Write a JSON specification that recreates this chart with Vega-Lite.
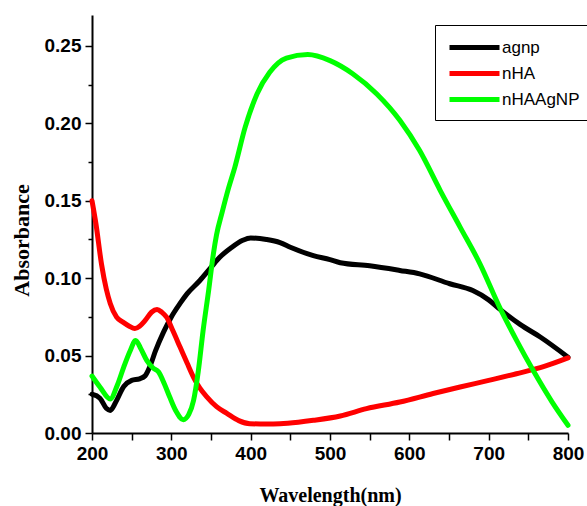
{
  "$schema": "https://vega.github.io/schema/vega-lite/v6.json",
  "width": 476,
  "height": 418,
  "autosize": {"type": "none"},
  "padding": {"left": 92, "top": 15, "right": 19, "bottom": 73},
  "background": "white",
  "data": {"values": [
    {"sample": "agnp", "wavelength": 200, "absorbance": 0.025},
    {"sample": "agnp", "wavelength": 210, "absorbance": 0.0225},
    {"sample": "agnp", "wavelength": 218, "absorbance": 0.016},
    {"sample": "agnp", "wavelength": 223, "absorbance": 0.0146},
    {"sample": "agnp", "wavelength": 230, "absorbance": 0.02},
    {"sample": "agnp", "wavelength": 240, "absorbance": 0.03},
    {"sample": "agnp", "wavelength": 250, "absorbance": 0.034},
    {"sample": "agnp", "wavelength": 260, "absorbance": 0.035},
    {"sample": "agnp", "wavelength": 267, "absorbance": 0.037},
    {"sample": "agnp", "wavelength": 273, "absorbance": 0.043},
    {"sample": "agnp", "wavelength": 280, "absorbance": 0.053},
    {"sample": "agnp", "wavelength": 290, "absorbance": 0.065},
    {"sample": "agnp", "wavelength": 300, "absorbance": 0.075},
    {"sample": "agnp", "wavelength": 311, "absorbance": 0.0837},
    {"sample": "agnp", "wavelength": 320, "absorbance": 0.09},
    {"sample": "agnp", "wavelength": 336, "absorbance": 0.0985},
    {"sample": "agnp", "wavelength": 350, "absorbance": 0.107},
    {"sample": "agnp", "wavelength": 361, "absorbance": 0.1135},
    {"sample": "agnp", "wavelength": 375, "absorbance": 0.1195},
    {"sample": "agnp", "wavelength": 390, "absorbance": 0.1245},
    {"sample": "agnp", "wavelength": 400, "absorbance": 0.126},
    {"sample": "agnp", "wavelength": 420, "absorbance": 0.125},
    {"sample": "agnp", "wavelength": 437, "absorbance": 0.123},
    {"sample": "agnp", "wavelength": 450, "absorbance": 0.12},
    {"sample": "agnp", "wavelength": 479, "absorbance": 0.1146},
    {"sample": "agnp", "wavelength": 500, "absorbance": 0.112},
    {"sample": "agnp", "wavelength": 513, "absorbance": 0.11},
    {"sample": "agnp", "wavelength": 550, "absorbance": 0.108},
    {"sample": "agnp", "wavelength": 588, "absorbance": 0.105},
    {"sample": "agnp", "wavelength": 613, "absorbance": 0.1028},
    {"sample": "agnp", "wavelength": 651, "absorbance": 0.0964},
    {"sample": "agnp", "wavelength": 680, "absorbance": 0.092},
    {"sample": "agnp", "wavelength": 700, "absorbance": 0.086},
    {"sample": "agnp", "wavelength": 714, "absorbance": 0.08},
    {"sample": "agnp", "wavelength": 740, "absorbance": 0.07},
    {"sample": "agnp", "wavelength": 765, "absorbance": 0.062},
    {"sample": "agnp", "wavelength": 800, "absorbance": 0.049},

    {"sample": "nHA", "wavelength": 200, "absorbance": 0.15},
    {"sample": "nHA", "wavelength": 205, "absorbance": 0.135},
    {"sample": "nHA", "wavelength": 212, "absorbance": 0.109},
    {"sample": "nHA", "wavelength": 218, "absorbance": 0.093},
    {"sample": "nHA", "wavelength": 223, "absorbance": 0.0837},
    {"sample": "nHA", "wavelength": 231, "absorbance": 0.0748},
    {"sample": "nHA", "wavelength": 239, "absorbance": 0.0716},
    {"sample": "nHA", "wavelength": 247, "absorbance": 0.069},
    {"sample": "nHA", "wavelength": 254, "absorbance": 0.0675},
    {"sample": "nHA", "wavelength": 260, "absorbance": 0.069},
    {"sample": "nHA", "wavelength": 267, "absorbance": 0.0727},
    {"sample": "nHA", "wavelength": 275, "absorbance": 0.078},
    {"sample": "nHA", "wavelength": 282, "absorbance": 0.0798},
    {"sample": "nHA", "wavelength": 288, "absorbance": 0.078},
    {"sample": "nHA", "wavelength": 294, "absorbance": 0.0748},
    {"sample": "nHA", "wavelength": 302, "absorbance": 0.066},
    {"sample": "nHA", "wavelength": 311, "absorbance": 0.0555},
    {"sample": "nHA", "wavelength": 320, "absorbance": 0.045},
    {"sample": "nHA", "wavelength": 328, "absorbance": 0.036},
    {"sample": "nHA", "wavelength": 336, "absorbance": 0.029},
    {"sample": "nHA", "wavelength": 345, "absorbance": 0.0232},
    {"sample": "nHA", "wavelength": 357, "absorbance": 0.017},
    {"sample": "nHA", "wavelength": 370, "absorbance": 0.0127},
    {"sample": "nHA", "wavelength": 385, "absorbance": 0.008},
    {"sample": "nHA", "wavelength": 399, "absorbance": 0.006},
    {"sample": "nHA", "wavelength": 420, "absorbance": 0.0058},
    {"sample": "nHA", "wavelength": 437, "absorbance": 0.006},
    {"sample": "nHA", "wavelength": 460, "absorbance": 0.007},
    {"sample": "nHA", "wavelength": 479, "absorbance": 0.0082},
    {"sample": "nHA", "wavelength": 513, "absorbance": 0.011},
    {"sample": "nHA", "wavelength": 546, "absorbance": 0.0157},
    {"sample": "nHA", "wavelength": 588, "absorbance": 0.02},
    {"sample": "nHA", "wavelength": 630, "absorbance": 0.0255},
    {"sample": "nHA", "wavelength": 664, "absorbance": 0.0297},
    {"sample": "nHA", "wavelength": 700, "absorbance": 0.034},
    {"sample": "nHA", "wavelength": 735, "absorbance": 0.0383},
    {"sample": "nHA", "wavelength": 770, "absorbance": 0.043},
    {"sample": "nHA", "wavelength": 800, "absorbance": 0.0485},

    {"sample": "nHAAgNP", "wavelength": 200, "absorbance": 0.0368},
    {"sample": "nHAAgNP", "wavelength": 210, "absorbance": 0.0297},
    {"sample": "nHAAgNP", "wavelength": 223, "absorbance": 0.022},
    {"sample": "nHAAgNP", "wavelength": 232, "absorbance": 0.031},
    {"sample": "nHAAgNP", "wavelength": 240, "absorbance": 0.0426},
    {"sample": "nHAAgNP", "wavelength": 248, "absorbance": 0.053},
    {"sample": "nHAAgNP", "wavelength": 255, "absorbance": 0.0598},
    {"sample": "nHAAgNP", "wavelength": 262, "absorbance": 0.054},
    {"sample": "nHAAgNP", "wavelength": 269, "absorbance": 0.0469},
    {"sample": "nHAAgNP", "wavelength": 277, "absorbance": 0.042},
    {"sample": "nHAAgNP", "wavelength": 284, "absorbance": 0.0394},
    {"sample": "nHAAgNP", "wavelength": 291, "absorbance": 0.032},
    {"sample": "nHAAgNP", "wavelength": 298, "absorbance": 0.0232},
    {"sample": "nHAAgNP", "wavelength": 306, "absorbance": 0.014},
    {"sample": "nHAAgNP", "wavelength": 315, "absorbance": 0.0086},
    {"sample": "nHAAgNP", "wavelength": 322, "absorbance": 0.012},
    {"sample": "nHAAgNP", "wavelength": 328, "absorbance": 0.021},
    {"sample": "nHAAgNP", "wavelength": 334, "absorbance": 0.04},
    {"sample": "nHAAgNP", "wavelength": 340, "absorbance": 0.066},
    {"sample": "nHAAgNP", "wavelength": 347, "absorbance": 0.092},
    {"sample": "nHAAgNP", "wavelength": 353, "absorbance": 0.1157},
    {"sample": "nHAAgNP", "wavelength": 357, "absorbance": 0.128},
    {"sample": "nHAAgNP", "wavelength": 364, "absorbance": 0.1425},
    {"sample": "nHAAgNP", "wavelength": 372, "absorbance": 0.158},
    {"sample": "nHAAgNP", "wavelength": 380, "absorbance": 0.1716},
    {"sample": "nHAAgNP", "wavelength": 393, "absorbance": 0.1974},
    {"sample": "nHAAgNP", "wavelength": 408, "absorbance": 0.219},
    {"sample": "nHAAgNP", "wavelength": 424, "absorbance": 0.233},
    {"sample": "nHAAgNP", "wavelength": 445, "absorbance": 0.2422},
    {"sample": "nHAAgNP", "wavelength": 472, "absorbance": 0.2445},
    {"sample": "nHAAgNP", "wavelength": 500, "absorbance": 0.2405},
    {"sample": "nHAAgNP", "wavelength": 529, "absorbance": 0.2319},
    {"sample": "nHAAgNP", "wavelength": 559, "absorbance": 0.219},
    {"sample": "nHAAgNP", "wavelength": 588, "absorbance": 0.202},
    {"sample": "nHAAgNP", "wavelength": 613, "absorbance": 0.1824},
    {"sample": "nHAAgNP", "wavelength": 639, "absorbance": 0.1566},
    {"sample": "nHAAgNP", "wavelength": 664, "absorbance": 0.133},
    {"sample": "nHAAgNP", "wavelength": 689, "absorbance": 0.1093},
    {"sample": "nHAAgNP", "wavelength": 714, "absorbance": 0.081},
    {"sample": "nHAAgNP", "wavelength": 735, "absorbance": 0.06},
    {"sample": "nHAAgNP", "wavelength": 756, "absorbance": 0.0405},
    {"sample": "nHAAgNP", "wavelength": 780, "absorbance": 0.02},
    {"sample": "nHAAgNP", "wavelength": 800, "absorbance": 0.005}
  ]},
  "mark": {"type": "line", "strokeWidth": 5, "interpolate": "monotone", "strokeCap": "round", "strokeJoin": "round"},
  "encoding": {
    "x": {
      "field": "wavelength", "type": "quantitative",
      "scale": {"domain": [200, 800], "nice": false, "zero": false},
      "axis": {
        "values": [200, 250, 300, 350, 400, 450, 500, 550, 600, 650, 700, 750, 800],
        "format": "d",
        "labelExpr": "datum.value % 100 == 0 ? datum.label : ''",
        "labelOverlap": false,
        "labelFlush": false,
        "tickSize": 7,
        "labelPadding": 4,
        "title": "Wavelength(nm)",
        "titleFont": "Liberation Serif",
        "titleFontWeight": "bold",
        "titleFontSize": 20,
        "titleBaseline": "alphabetic",
        "titleY": 68
      }
    },
    "y": {
      "field": "absorbance", "type": "quantitative",
      "scale": {"domain": [0, 0.27], "nice": false},
      "axis": {
        "values": [0, 0.025, 0.05, 0.075, 0.1, 0.125, 0.15, 0.175, 0.2, 0.225, 0.25],
        "format": ".2f",
        "labelExpr": "abs(datum.value*20 - round(datum.value*20)) > 0.001 ? '' : datum.label",
        "labelOverlap": false,
        "labelFlush": false,
        "tickSize": {"condition": {"test": "abs(datum.value*20 - round(datum.value*20)) > 0.001", "value": 4}, "value": 7},
        "labelPadding": 4,
        "title": "Absorbance",
        "titleFont": "Liberation Serif",
        "titleFontWeight": "bold",
        "titleFontSize": 22,
        "titleAngle": 270,
        "titleAlign": "center",
        "titleBaseline": "middle",
        "titleX": -71,
        "titleY": 225
      }
    },
    "color": {
      "field": "sample", "type": "nominal",
      "scale": {"domain": ["agnp", "nHA", "nHAAgNP"], "range": ["#000000", "#ff0000", "#00ff00"]},
      "legend": {
        "title": null,
        "orient": "none",
        "legendX": 343,
        "legendY": 10,
        "strokeColor": "black",
        "fillColor": "white",
        "padding": 10,
        "symbolType": "M-2.5,0H2.5",
        "symbolSize": 400,
        "symbolStrokeWidth": 5,
        "symbolOffset": 17,
        "labelFont": "Liberation Sans",
        "labelFontSize": 17,
        "labelOffset": 15,
        "rowPadding": 3
      }
    }
  },
  "config": {
    "view": {"stroke": null},
    "axis": {
      "grid": false,
      "domainColor": "black",
      "domainWidth": 2,
      "tickColor": "black",
      "tickWidth": 1.5,
      "labelFont": "Liberation Sans",
      "labelFontWeight": "bold",
      "labelFontSize": 19,
      "labelColor": "black",
      "titleColor": "black"
    }
  }
}
